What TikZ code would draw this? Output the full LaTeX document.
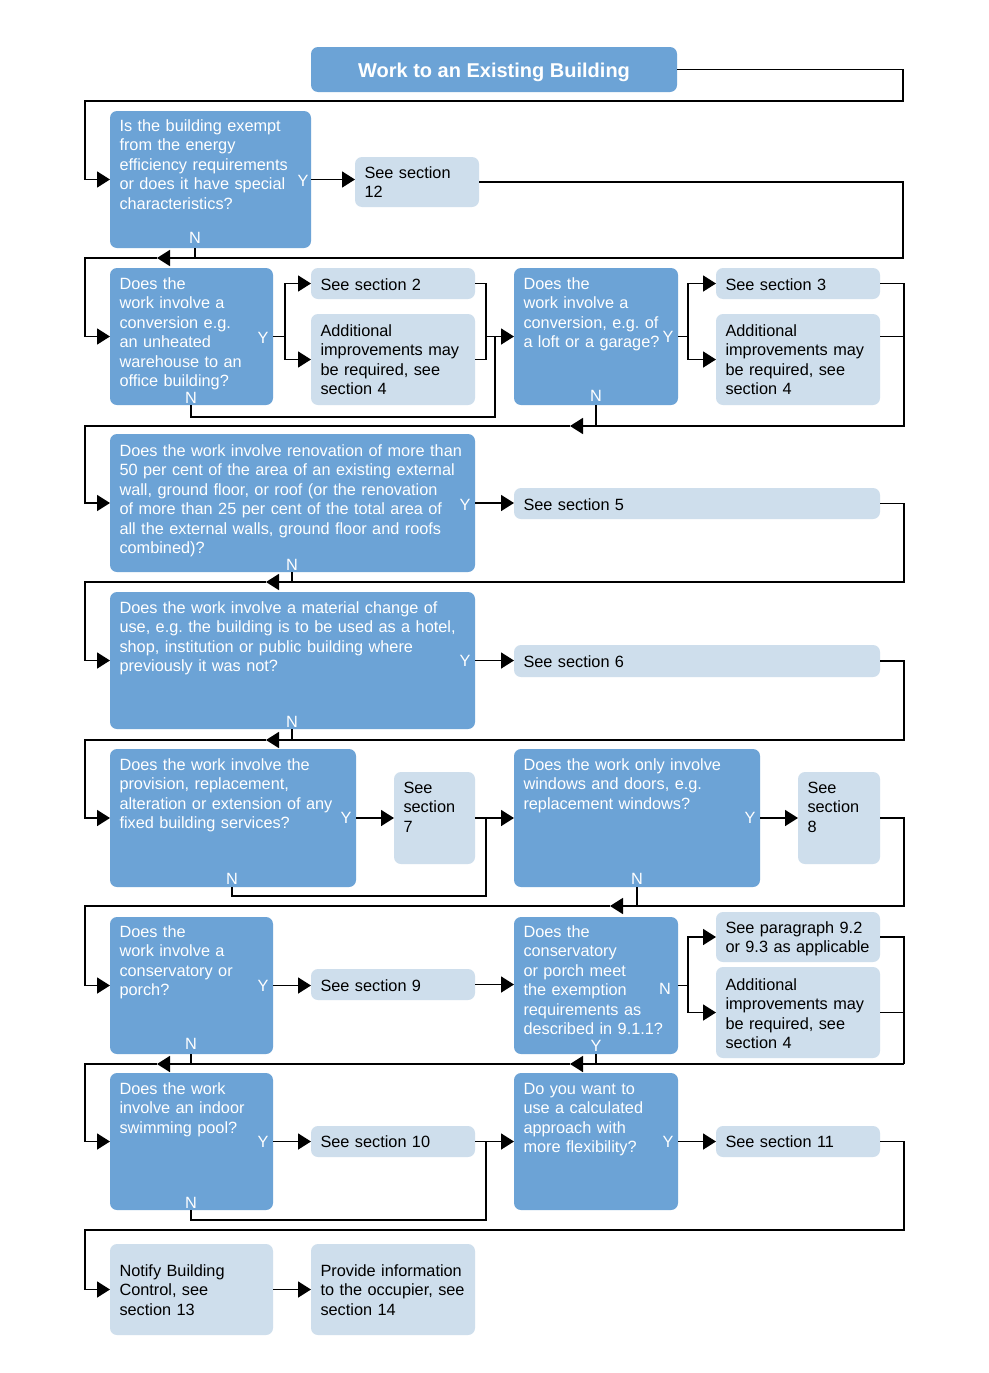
\documentclass[tikz,border=0pt]{standalone}
\usepackage{fontspec}
\setmainfont{Liberation Sans}
\usetikzlibrary{arrows.meta,calc}
\frenchspacing
\definecolor{dblue}{RGB}{108,163,214}
\definecolor{lblue}{RGB}{206,222,236}
\tikzset{
 basebox/.style={inner sep=0pt, outer sep=0pt, rounded corners=7pt},
 dark/.style={basebox, fill=dblue},
 light/.style={basebox, fill=lblue},
 darktxt/.style={inner sep=0pt, outer sep=0pt, text width=420pt, align=left, text=white, font=\fontsize{16.3}{19.5}\selectfont},
 lighttxt/.style={darktxt, text=black},
 lab/.style={inner sep=0pt, text=white, font=\fontsize{16.3}{19.5}\selectfont},
 ln/.style={line width=1.7pt, line join=miter},
 arr/.style={ln, -{Triangle[length=13pt,width=16pt]}},
}
\newcommand\mybox[8]{%
  \node[#2,anchor=north west,minimum width={#5-#3},minimum height={#6-#4}] (#1) at (#3,#4) {};
  \node[#2txt,anchor=base west] (#1t) at (#3+9.5,#7) {#8};
}
\begin{document}
\begin{tikzpicture}[x=1pt,y=-1pt]
\fill[white] (0,0) rectangle (988,1373);
\useasboundingbox (0,0) rectangle (988,1373);
% title
\node[dark, anchor=north west, minimum width=366, minimum height=45] (title) at (311,47) {};
\node[inner sep=0pt, text=white, text depth=0pt, font=\bfseries\fontsize{20}{24}\selectfont] (titlet) at (494,70) {Work to an Existing Building};
% boxes
\mybox{q1}{dark}{110}{111}{311}{248}{131}{Is the building exempt\\from the energy\\efficiency requirements\\or does it have special\\characteristics?}
\mybox{s12}{light}{355}{157}{479}{207}{178}{See section\\12}
\mybox{q2}{dark}{110}{268}{273}{405}{289}{Does the\\work involve a\\conversion e.g.\\an unheated\\warehouse to an\\office building?}
\mybox{s2}{light}{311}{268}{475}{299}{290}{See section 2}
\mybox{a1}{light}{311}{314}{475}{405}{336}{Additional\\improvements may\\be required, see\\section 4}
\mybox{q3}{dark}{514}{268}{678}{405}{289}{Does the\\work involve a\\conversion, e.g. of\\a loft or a garage?}
\mybox{s3}{light}{716}{268}{880}{299}{290}{See section 3}
\mybox{a2}{light}{716}{314}{880}{405}{336}{Additional\\improvements may\\be required, see\\section 4}
\mybox{q4}{dark}{110}{434}{475}{572}{456}{Does the work involve renovation of more than\\50 per cent of the area of an existing external\\wall, ground floor, or roof (or the renovation\\of more than 25 per cent of the total area of\\all the external walls, ground floor and roofs\\combined)?}
\mybox{s5}{light}{514}{488}{880}{519}{510}{See section 5}
\mybox{q5}{dark}{110}{592}{475}{729}{613}{Does the work involve a material change of\\use, e.g. the building is to be used as a hotel,\\shop, institution or public building where\\previously it was not?}
\mybox{s6}{light}{514}{645}{880}{677}{667}{See section 6}
\mybox{q6}{dark}{110}{749}{356}{887}{770}{Does the work involve the\\provision, replacement,\\alteration or extension of any\\fixed building services?}
\mybox{s7}{light}{394}{772}{475}{864}{793}{See\\section\\7}
\mybox{q7}{dark}{514}{749}{760}{887}{770}{Does the work only involve\\windows and doors, e.g.\\replacement windows?}
\mybox{s8}{light}{798}{772}{880}{864}{793}{See\\section\\8}
\mybox{q8}{dark}{110}{917}{273}{1054}{937}{Does the\\work involve a\\conservatory or\\porch?}
\mybox{s9}{light}{311}{969}{475}{1000}{991}{See section 9}
\mybox{q9}{dark}{514}{917}{678}{1054}{937}{Does the\\conservatory\\or porch meet\\the exemption\\requirements as\\described in 9.1.1?}
\mybox{p9}{light}{716}{912}{880}{962}{933}{See paragraph 9.2\\or 9.3 as applicable}
\mybox{a3}{light}{716}{967}{880}{1058}{990}{Additional\\improvements may\\be required, see\\section 4}
\mybox{q10}{dark}{110}{1073}{273}{1210}{1094}{Does the work\\involve an indoor\\swimming pool?}
\mybox{s10}{light}{311}{1126}{475}{1157}{1147}{See section 10}
\mybox{q11}{dark}{514}{1073}{678}{1210}{1094}{Do you want to\\use a calculated\\approach with\\more flexibility?}
\mybox{s11}{light}{716}{1126}{880}{1157}{1147}{See section 11}
\mybox{n13}{light}{110}{1244}{273}{1335}{1276}{Notify Building\\Control, see\\section 13}
\mybox{p14}{light}{311}{1244}{475}{1335}{1276}{Provide information\\to the occupier, see\\section 14}
% Y / N labels
\node[lab] (q1Y) at (303,181) {Y};
\node[lab] (q1N) at (195,238) {N};
\node[lab] (q2Y) at (263,338) {Y};
\node[lab] (q2N) at (191,398) {N};
\node[lab] (q3Y) at (668,337) {Y};
\node[lab] (q3N) at (596,396) {N};
\node[lab] (q4Y) at (465,505) {Y};
\node[lab] (q4N) at (292,565) {N};
\node[lab] (q5Y) at (465,661) {Y};
\node[lab] (q5N) at (292,722) {N};
\node[lab] (q6Y) at (346,818) {Y};
\node[lab] (q6N) at (232,879) {N};
\node[lab] (q7Y) at (750,818) {Y};
\node[lab] (q7N) at (637,879) {N};
\node[lab] (q8Y) at (263,986) {Y};
\node[lab] (q8N) at (191,1044) {N};
\node[lab] (q9N) at (665,989) {N};
\node[lab] (q9Y) at (596,1046) {Y};
\node[lab] (q10Y) at (263,1142) {Y};
\node[lab] (q10N) at (191,1203) {N};
\node[lab] (q11Y) at (668,1142) {Y};
% coordinates
\coordinate (t1) at (903,101); \coordinate (t2) at (85,101);
\coordinate (r1) at (903,258); \coordinate (h1) at (157,258); \coordinate (l1) at (85,258);
\coordinate (b2) at ($(q2.east)+(12,0)$);
\coordinate (v2) at ($(a1.east)+(11,0)$);
\coordinate (n2) at (495,417);
\coordinate (b3) at ($(q3.east)+(10,0)$);
\coordinate (r3) at (904,426); \coordinate (h3) at (570,426); \coordinate (l3) at (85,426);
\coordinate (r4) at (904,582); \coordinate (h4) at (266,582); \coordinate (l4) at (85,582);
\coordinate (r5) at (904,740); \coordinate (h5) at (266,740); \coordinate (l5) at (85,740);
\coordinate (n6) at (486,896);
\coordinate (r7) at (904,906); \coordinate (h7) at (610,906); \coordinate (l7) at (85,906);
\coordinate (b9) at ($(q9.east)+(10,0)$);
\coordinate (r9) at (904,1064); \coordinate (h9a) at (570,1064); \coordinate (h9b) at (157,1064); \coordinate (l9) at (85,1064);
\coordinate (n10) at (486,1220);
\coordinate (r11) at (904,1230); \coordinate (l11) at (85,1230);
% connectors
\draw[arr] (title.east) -| (t1) -- (t2) |- (q1.west);
\draw[arr] (q1.east) -- (q1.east -| s12.west);
\draw[arr] (s12.east) -| (r1) -- (h1);
\draw[ln] (q1N |- q1.south) -- (q1N |- r1);
\draw[arr] (h1) -- (l1) |- (q2.west);
% row 2
\draw[ln] (q2.east) -- (b2);
\draw[arr] (b2) |- (s2.west);
\draw[arr] (b2) |- (a1.west);
\draw[ln] (s2.east) -| (v2) -- (a1.east);
\draw[arr] (v2 |- q3.west) -- (q3.west);
\draw[ln] (q2N |- q2.south) |- (n2) -- (n2 |- q3.west);
\draw[ln] (q3.east) -- (b3);
\draw[arr] (b3) |- (s3.west);
\draw[arr] (b3) |- (a2.west);
\draw[arr] (s3.east) -| (r3) -- (h3);
\draw[ln] (a2.east |- q3.east) -- (r3 |- q3.east);
\draw[ln] (q3N |- q3.south) -- (q3N |- r3);
\draw[arr] (h3) -- (l3) |- (q4.west);
% row 3
\draw[arr] (q4.east) -- (q4.east -| s5.west);
\draw[arr] (s5.east) -| (r4) -- (h4);
\draw[ln] (q4N |- q4.south) -- (q4N |- r4);
\draw[arr] (h4) -- (l4) |- (q5.west);
% row 4
\draw[arr] (q5.east) -- (q5.east -| s6.west);
\draw[arr] (s6.east) -| (r5) -- (h5);
\draw[ln] (q5N |- q5.south) -- (q5N |- r5);
\draw[arr] (h5) -- (l5) |- (q6.west);
% row 5
\draw[arr] (q6.east) -- (s7.west);
\draw[arr] (s7.east) -- (q7.west);
\draw[ln] (q6N |- q6.south) |- (n6) -- (n6 |- s7.east);
\draw[arr] (q7.east) -- (s8.west);
\draw[arr] (s8.east) -| (r7) -- (h7);
\draw[ln] (q7N |- q7.south) -- (q7N |- r7);
\draw[arr] (h7) -- (l7) |- (q8.west);
% row 6
\draw[arr] (q8.east) -- (q8.east -| s9.west);
\draw[arr] (s9.east) -- (s9.east -| q9.west);
\draw[ln] (q9.east) -- (b9);
\draw[arr] (b9) |- (p9.west);
\draw[arr] (b9) |- (a3.west);
\draw[ln] (p9.east) -| (r9);
\draw[ln] (a3.east) -- (a3.east -| r9);
\draw[arr] (r9) -- (h9a);
\draw[arr] (h9a) -- (h9b);
\draw[ln] (q9Y |- q9.south) -- (q9Y |- r9);
\draw[ln] (q8N |- q8.south) -- (q8N |- r9);
\draw[arr] (h9b) -- (l9) |- (q10.west);
% row 7
\draw[arr] (q10.east) -- (q10.east -| s10.west);
\draw[arr] (s10.east) -- (s10.east -| q11.west);
\draw[ln] (q10N |- q10.south) |- (n10) -- (n10 |- s10.east);
\draw[arr] (q11.east) -- (q11.east -| s11.west);
\draw[arr] (s11.east) -| (r11) -- (l11) |- (n13.west);
% row 8
\draw[arr] (n13.east) -- (p14.west);
\end{tikzpicture}
\end{document}
